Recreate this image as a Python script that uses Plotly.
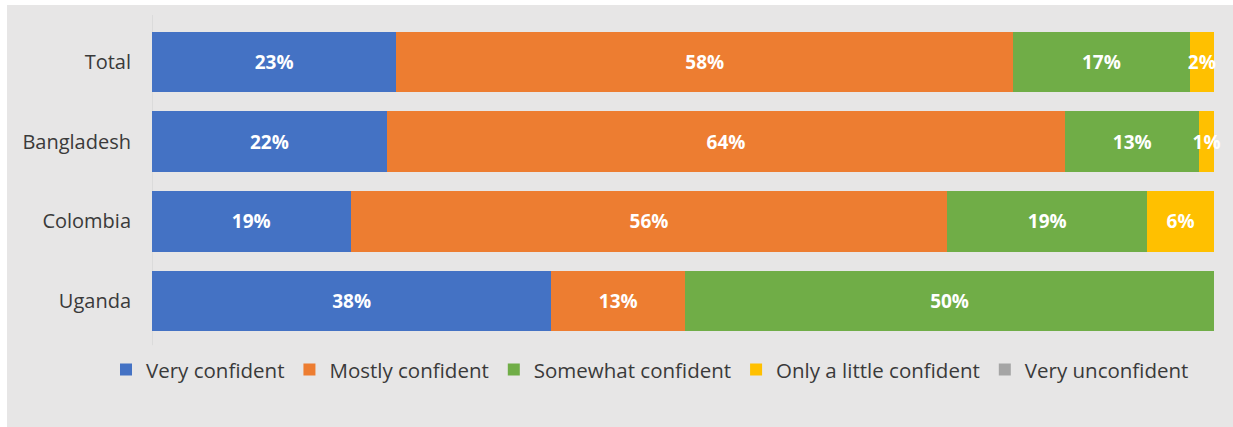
import plotly.graph_objects as go

countries = ["Total", "Bangladesh", "Colombia", "Uganda"]
very_confident = [23.0, 22.1, 18.7, 37.6]
mostly_confident = [58.1, 63.9, 56.2, 12.6]
somewhat_confident = [16.6, 12.6, 18.8, 49.8]
little_confident = [2.3, 1.4, 6.3, 0.0]
very_unconfident = [0.0, 0.0, 0.0, 0.0]

series = [
    ("Very confident", very_confident, "#4472C4", True),
    ("Mostly confident", mostly_confident, "#ED7D31", True),
    ("Somewhat confident", somewhat_confident, "#70AD47", True),
    ("Only a little confident", little_confident, "#FFC000", True),
    ("Very unconfident", very_unconfident, "#A5A5A5", False),
]

W, H = 1233, 427
L, R, T, B = 152, 19, 22, 86
PW, PH = W - L - R, H - T - B
FONT = "Open Sans"

fig = go.Figure()
for name, vals, color, labelled in series:
    texts = [f"{round(v)}%" if (labelled and v > 0) else "" for v in vals]
    fig.add_trace(go.Bar(
        name=name, y=countries, x=vals, orientation="h",
        marker=dict(color=color, line=dict(width=0)),
        text=texts, textposition="inside", insidetextanchor="middle",
        textangle=0, constraintext="none", cliponaxis=False,
        textfont=dict(family=FONT, size=19, color="white", weight="bold"),
        hoverinfo="skip",
    ))

bg = "#E7E6E6"
fig.update_layout(
    width=W, height=H, autosize=False,
    barmode="stack", bargap=0.24,
    paper_bgcolor=bg, plot_bgcolor=bg,
    margin=dict(l=L, r=R, t=T, b=B, pad=0),
    font=dict(family=FONT, size=20, color="#3A3A3A"),
    legend=dict(orientation="h", x=(106 - L) / PW, xanchor="left", y=-0.09, yanchor="middle",
                font=dict(family=FONT, size=20.5, color="#3A3A3A"),
                bgcolor="rgba(0,0,0,0)", traceorder="normal", itemwidth=30),
    xaxis=dict(range=[0, 100], visible=False, fixedrange=True),
    yaxis=dict(categoryorder="array", categoryarray=countries, autorange="reversed",
               showline=False, showgrid=False, zeroline=False, ticks="",
               ticklabelstandoff=20, tickfont=dict(family=FONT, size=20, color="#3A3A3A")),
    shapes=[
        dict(type="line", xref="x", yref="paper", x0=0, x1=0, y0=-0.013, y1=1.022,
             line=dict(color="#CFCFCF", width=1), layer="below"),
        dict(type="rect", xref="paper", yref="paper",
             x0=-L / PW, x1=-(L - 7) / PW, y0=-B / PH, y1=(H - B) / PH,
             fillcolor="white", line=dict(width=0), layer="above"),
        dict(type="rect", xref="paper", yref="paper",
             x0=-L / PW, x1=(W - L) / PW, y0=1 + (T - 5) / PH, y1=1 + T / PH,
             fillcolor="white", line=dict(width=0), layer="above"),
    ],
)

fig.write_html("out.html", config={"displayModeBar": False},
               post_script="document.body.style.margin='0';document.body.style.overflow='hidden';")
